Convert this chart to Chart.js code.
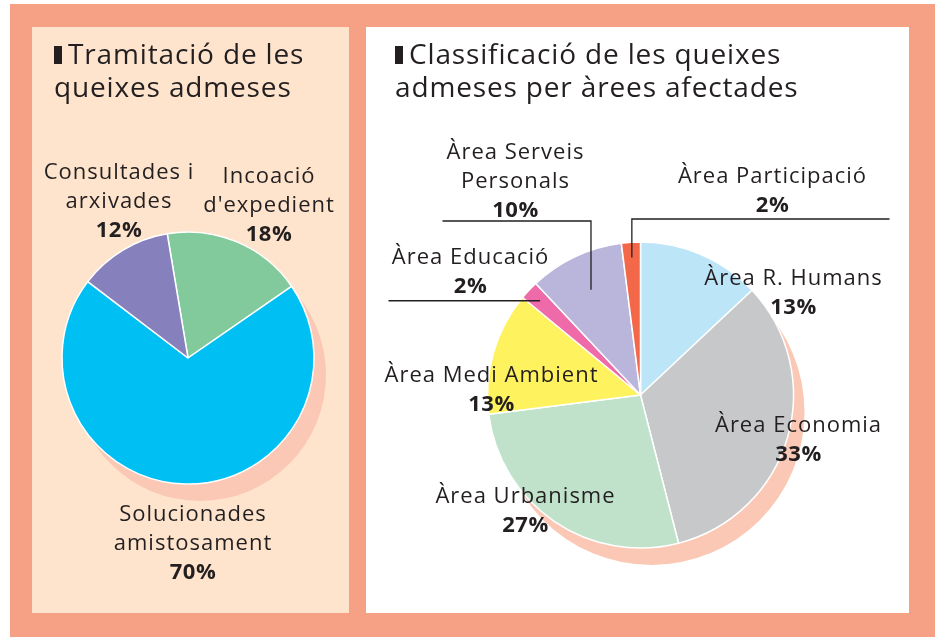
<!DOCTYPE html>
<html>
<head>
<meta charset="utf-8">
<script src="https://cdn.jsdelivr.net/npm/chart.js@4.4.1/dist/chart.umd.min.js"></script>
<style>
  html, body { margin: 0; padding: 0; background: #fff; }
  body { width: 935px; height: 637px; position: relative; overflow: hidden; font-family: "Open Sans", sans-serif; color: #231f20; }
  #frame { position: absolute; left: 10px; top: 4px; width: 925px; height: 633px; background: #f6a086; }
  .panel { position: absolute; top: 27px; height: 586px; }
  #leftPanel { left: 32px; width: 317px; background: #fee4cd; }
  #rightPanel { left: 366px; width: 543px; background: #fff; }
  .title { position: absolute; top: 10px; font-size: 28px; line-height: 33px; letter-spacing: 0.85px; white-space: nowrap; z-index: 2; }
  .bullet { display: inline-block; width: 8px; height: 18px; background: #231f20; margin-right: 6px; }
  canvas { position: absolute; left: 0; top: 0; }
</style>
</head>
<body>
<div id="frame"></div>
<div class="panel" id="leftPanel">
  <div class="title" style="left:22px"><span class="bullet"></span>Tramitació de les<br>queixes admeses</div>
  <canvas id="leftChart" width="317" height="586"></canvas>
</div>
<div class="panel" id="rightPanel">
  <div class="title" style="left:29px"><span class="bullet"></span>Classificació de les queixes<br>admeses per àrees afectades</div>
  <canvas id="rightChart" width="543" height="586"></canvas>
</div>
<script>
// data
const leftLabels = [["Incoació", "d'expedient"], ["Solucionades", "amistosament"], ["Consultades i", "arxivades"]];
const leftValues = [18, 70, 12];

const rightLabels = [["Àrea R. Humans"], ["Àrea Economia"], ["Àrea Urbanisme"], ["Àrea Medi Ambient"],
  ["Àrea Educació"], ["Àrea Serveis", "Personals"], ["Àrea Participació"]];
const rightValues = [13, 33, 27, 13, 2, 10, 2];

// styles
const leftColors = ["#82ca9c", "#00bff3", "#8681bd"];
const rightColors = ["#bde5f8", "#c7c8ca", "#c0e2ca", "#fff25f", "#ee6aa9", "#bab5db", "#f26849"];
const textColor = "#231f20";

// label anchors, offset from the pie centre (first line centre)
const leftLabelPos = [[81, -181], [5, 157], [-69, -185]];
const rightLabelPos = [[153, -116], [158, 31], [-115, 102], [-149, -19], [-170, -137], [-125, -242], [132, -218]];

// leader lines for the thin slices
const rightLeaders = [
  { index: 4, frac: 0.9, endDx: -252 },
  { index: 5, frac: 0.76, elbowDy: -174, endDx: -198 },
  { index: 6, frac: 0.9, elbowDy: -176, endDx: 249 }
];

const pieDecor = {
  id: "pieDecor",
  beforeDatasetsDraw(chart, args, opts) {
    const ctx = chart.ctx;
    const arc = chart.getDatasetMeta(0).data[0];
    ctx.save();
    ctx.fillStyle = opts.shadowColor;
    ctx.beginPath();
    ctx.arc(arc.x + opts.shadowDx, arc.y + opts.shadowDy, arc.outerRadius, 0, Math.PI * 2);
    ctx.fill();
    ctx.restore();
  },
  afterDatasetsDraw(chart, args, opts) {
    const ctx = chart.ctx;
    const meta = chart.getDatasetMeta(0);
    const cx = meta.data[0].x, cy = meta.data[0].y, r = meta.data[0].outerRadius;
    ctx.save();
    ctx.strokeStyle = textColor;
    ctx.lineWidth = 1.3;
    (opts.leaders || []).forEach(l => {
      const a = meta.data[l.index];
      const mid = (a.startAngle + a.endAngle) / 2;
      const px = cx + Math.cos(mid) * r * l.frac;
      const py = cy + Math.sin(mid) * r * l.frac;
      ctx.beginPath();
      ctx.moveTo(px, py);
      if (l.elbowDy !== undefined) {
        ctx.lineTo(px, cy + l.elbowDy);
        ctx.lineTo(cx + l.endDx, cy + l.elbowDy);
      } else {
        ctx.lineTo(cx + l.endDx, py);
      }
      ctx.stroke();
    });
    ctx.fillStyle = textColor;
    ctx.textAlign = "center";
    ctx.textBaseline = "middle";
    const labels = chart.data.labels;
    const values = chart.data.datasets[0].data;
    labels.forEach((lines, i) => {
      const [dx, dy] = opts.positions[i];
      let y = cy + dy;
      ctx.font = '22px "Open Sans"';
      ctx.letterSpacing = "1px";
      lines.forEach(t => { ctx.fillText(t, cx + dx, y); y += opts.lineHeight; });
      ctx.font = 'bold 22px "Open Sans"';
      ctx.letterSpacing = "0.5px";
      ctx.fillText(values[i] + "%", cx + dx, y);
    });
    ctx.restore();
  }
};

function makePie(id, labels, values, colors, padding, radius, rotation, decor) {
  return new Chart(document.getElementById(id), {
    type: "pie",
    data: {
      labels: labels,
      datasets: [{
        data: values,
        backgroundColor: colors,
        borderColor: "#ffffff",
        borderWidth: 1.5
      }]
    },
    options: {
      responsive: false,
      animation: false,
      devicePixelRatio: 1,
      rotation: rotation,
      radius: radius,
      layout: { padding: padding },
      plugins: {
        legend: { display: false },
        tooltip: { enabled: false },
        pieDecor: decor
      }
    },
    plugins: [pieDecor]
  });
}

makePie("leftChart", leftLabels, leftValues, leftColors,
  { top: 76, right: 5, left: 0, bottom: 0 }, 126, -9.5,
  { shadowColor: "#fac8b4", shadowDx: 12, shadowDy: 17, positions: leftLabelPos, lineHeight: 29 });

makePie("rightChart", rightLabels, rightValues, rightColors,
  { top: 150, left: 6, right: 0, bottom: 0 }, 153, 0,
  { shadowColor: "#fac8b4", shadowDx: 11, shadowDy: 17, positions: rightLabelPos, lineHeight: 29, leaders: rightLeaders });
</script>
</body>
</html>
